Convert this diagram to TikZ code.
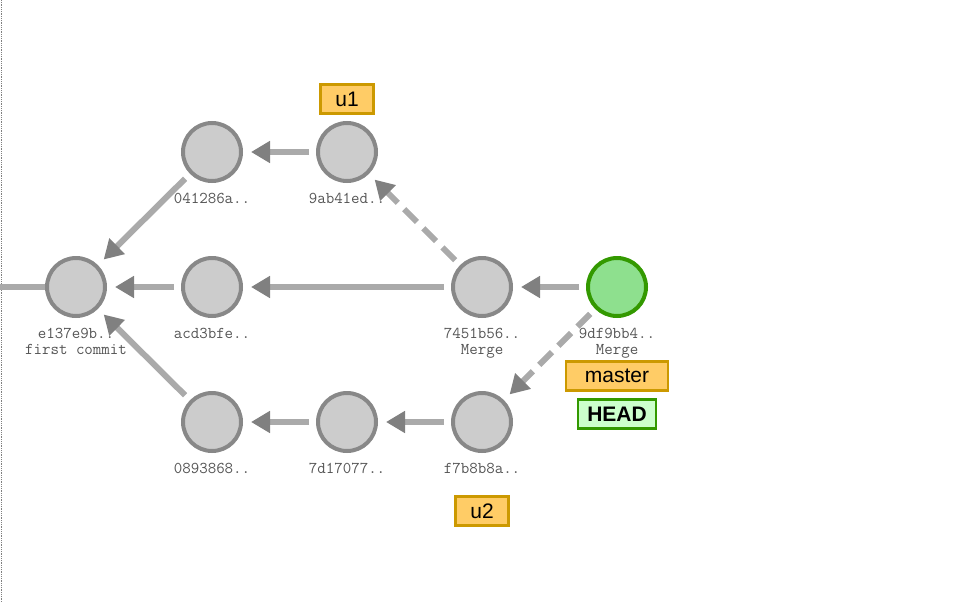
\documentclass[tikz,border=0pt]{standalone}
\usepackage{fontspec}
\setmainfont{Liberation Sans}
\usetikzlibrary{arrows.meta,positioning}
\definecolor{cfill}{HTML}{CCCCCC}
\definecolor{cline}{HTML}{888888}
\definecolor{edgegray}{HTML}{AAAAAA}
\definecolor{headgray}{HTML}{808080}
\definecolor{hfill}{HTML}{8EE08E}
\definecolor{hline}{HTML}{339900}
\definecolor{bfill}{HTML}{FFCC66}
\definecolor{bline}{HTML}{CC9900}
\definecolor{headfill}{HTML}{CCFFCC}
\definecolor{lblgray}{HTML}{555555}

\begin{document}
\begin{tikzpicture}[x=1pt,y=1pt,
    commit/.style={circle,draw=cline,fill=cfill,line width=4pt,minimum size=58pt,inner sep=0pt},
    headcommit/.style={commit,draw=hline,fill=hfill},
    hashlbl/.style={align=center,text=lblgray,font=\ttfamily\fontsize{16.5}{16}\selectfont,inner sep=0pt},
    branch/.style={draw=bline,fill=bfill,line width=2.5pt,minimum height=29pt,inner sep=0pt,font=\fontsize{21}{24}\selectfont},
    headlbl/.style={branch,draw=hline,fill=headfill,font=\bfseries\fontsize{21}{24}\selectfont},
    parent/.style={draw=edgegray,line width=6pt,shorten <=7pt,shorten >=8pt,
        -{Triangle[length=19pt,width=21pt,color=headgray]}},
    merged/.style={parent,dash pattern=on 18pt off 9pt}]
    \useasboundingbox (0,0) rectangle (965,-602);
    \draw [gray,densely dotted,line width=0.8pt] (1,0) -- (1,-602);
    \node [commit] (e137) at (76,-287) {};
    \node [commit] (acd3) at (212,-287) {};
    \node [commit] (n041) at (212,-152) {};
    \node [commit] (n9ab) at (347,-152) {};
    \node [commit] (n745) at (482,-287) {};
    \node [headcommit] (n9df) at (617,-287) {};
    \node [commit] (n089) at (212,-422) {};
    \node [commit] (n7d1) at (347,-422) {};
    \node [commit] (f7b8) at (482,-422) {};
    \node [hashlbl,below=10pt of e137] {e137e9b..\\first commit};
    \node [hashlbl,below=10pt of acd3] {acd3bfe..};
    \node [hashlbl,below=10pt of n041] {041286a..};
    \node [hashlbl,below=10pt of n9ab] {9ab41ed..};
    \node [hashlbl,below=10pt of n745] {7451b56..\\Merge};
    \node [hashlbl,below=10pt of n9df] {9df9bb4..\\Merge};
    \node [hashlbl,below=10pt of n089] {0893868..};
    \node [hashlbl,below=10pt of n7d1] {7d17077..};
    \node [hashlbl,below=10pt of f7b8] {f7b8b8a..};
    \node [branch,minimum width=53pt] (u1) at (347,-99) {u1};
    \node [branch,minimum width=102pt] (master) at (617,-376) {master};
    \node [headlbl,minimum width=78pt] (head) at (617,-414) {HEAD};
    \node [branch,minimum width=53pt] (u2) at (482,-511) {u2};
    \coordinate (root) at (0,-287);
    \draw [draw=edgegray,line width=6pt] (root) -- (e137.west);
    \draw [parent] (acd3) -- (e137);
    \draw [parent] (n041) -- (e137);
    \draw [parent] (n089) -- (e137);
    \draw [parent] (n9ab) -- (n041);
    \draw [parent] (n745) -- (acd3);
    \draw [merged] (n745) -- (n9ab);
    \draw [parent] (n9df) -- (n745);
    \draw [merged] (n9df) -- (f7b8);
    \draw [parent] (n7d1) -- (n089);
    \draw [parent] (f7b8) -- (n7d1);
\end{tikzpicture}
\end{document}
